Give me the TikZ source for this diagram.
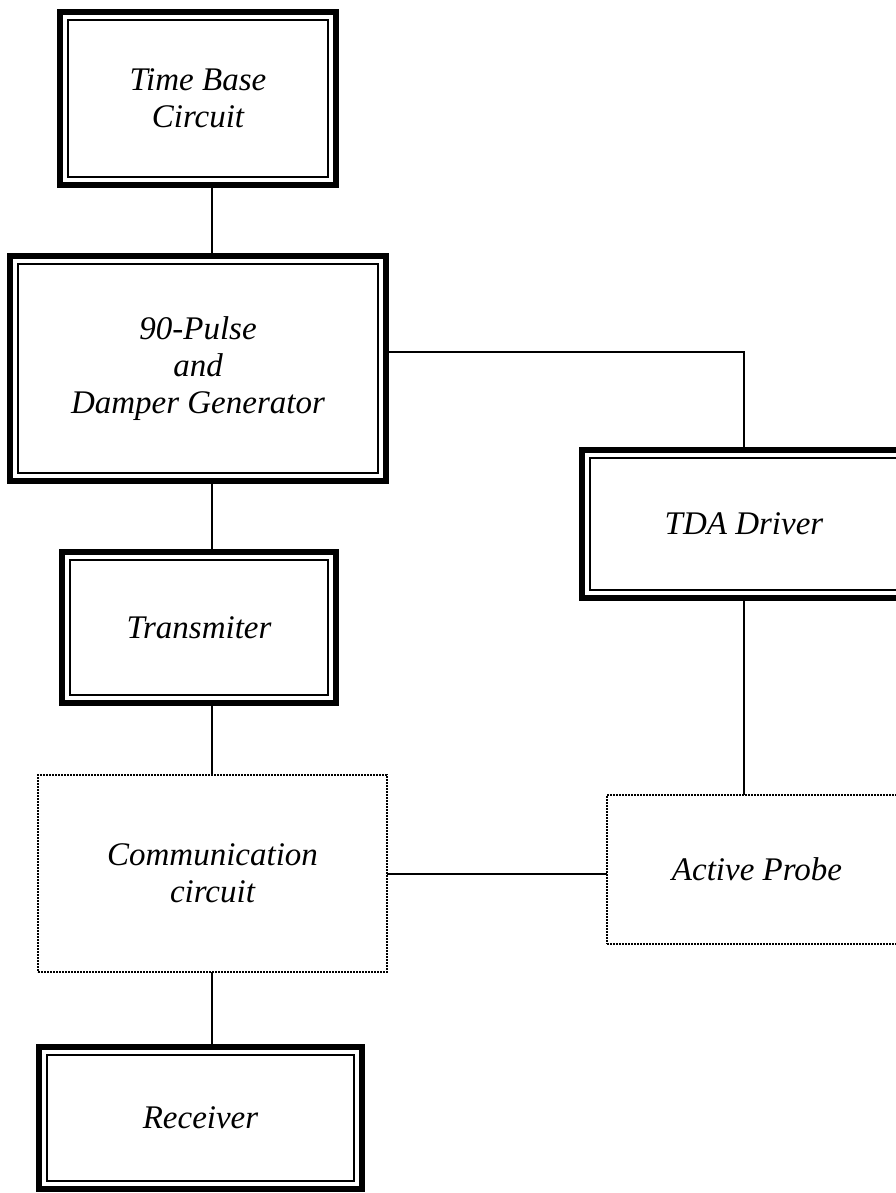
\documentclass[tikz,border=0pt]{standalone}
\usepackage{fontspec}
\setmainfont{Liberation Serif}
\begin{document}
\begin{tikzpicture}[x=1pt,y=-1pt,
  lbl/.style={font=\fontsize{33}{37}\selectfont\itshape, align=center, text=black},
  dbox/.style={lbl, draw=black, line width=5.5pt, outer sep=0pt, anchor=north west, inner sep=0pt},
  dotbox/.style={lbl, draw=black, line width=2.2pt, dash pattern=on 1.6pt off 1.4pt, outer sep=0pt, anchor=north west, inner sep=0pt},
  innerline/.style={draw=black, line width=2pt},
  conn/.style={draw=black, line width=2pt}]
\useasboundingbox (0,0) rectangle (896,1193);
\clip (0,0) rectangle (896,1193);
\newcommand{\dblin}[1]{\draw[innerline] ([shift={(8pt,-8pt)}]#1.north west) rectangle ([shift={(-8pt,8pt)}]#1.south east);}

\node[dbox, minimum width=276pt, minimum height=173pt] (tb) at (60,12) {Time Base\\Circuit};
\dblin{tb}
\node[dbox, minimum width=376pt, minimum height=225pt] (pg) at (10,256) {90-Pulse\\and\\Damper Generator};
\dblin{pg}
\node[dbox, minimum width=274pt, minimum height=151pt] (tx) at (62,552) {Transmiter};
\dblin{tx}
\node[dotbox, minimum width=349pt, minimum height=197pt] (cc) at (38,775) {Communication\\circuit};
\node[dbox, minimum width=323pt, minimum height=142pt] (rx) at (39,1047) {Receiver};
\dblin{rx}
\node[dbox, minimum width=324pt, minimum height=148pt] (tda) at (582,450) {TDA Driver};
\dblin{tda}
\node[dotbox, minimum width=300pt, minimum height=149pt] (ap) at (607,795) {Active Probe};

\coordinate (colL) at (212,0);
\coordinate (rowA) at (0,352);
\draw[conn] (tb.south -| colL) -- (pg.north -| colL);
\draw[conn] (pg.south -| colL) -- (tx.north -| colL);
\draw[conn] (tx.south -| colL) -- (cc.north -| colL);
\draw[conn] (cc.south -| colL) -- (rx.north -| colL);
\draw[conn] (pg.east |- rowA) -| (tda.north);
\draw[conn] (tda.south) -- (tda.south |- ap.north);
\draw[conn] (cc.east) -- (ap.west |- cc.east);
\end{tikzpicture}
\end{document}
